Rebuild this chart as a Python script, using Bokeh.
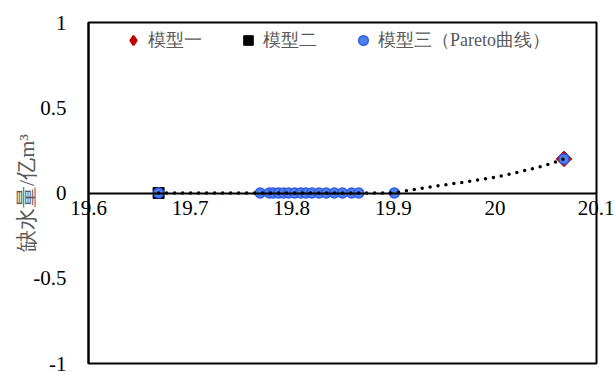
import math
from bokeh.plotting import figure
from bokeh.models import (Range1d, LinearAxis, FixedTicker, NumeralTickFormatter,
                          Legend, LegendItem)
from bokeh.embed import file_html
from bokeh.resources import INLINE

# Model results: water shortage (100 million m^3) against objective value
model1_x = [20.068]
model1_y = [0.2]
model2_x = [19.669]
model2_y = [0.0]

# Pareto solutions (model 3)
pareto_x = [19.669, 19.769, 19.778, 19.782, 19.787, 19.792, 19.797, 19.803, 19.809,
            19.814, 19.820, 19.827, 19.834, 19.842, 19.850, 19.859, 19.866,
            19.901, 20.068]
pareto_y = [0.0] * 18 + [0.2]

# Pareto curve trace
curve_x = [19.669, 19.769, 19.778, 19.782, 19.787, 19.792, 19.797, 19.803, 19.809,
           19.814, 19.820, 19.827, 19.834, 19.842, 19.850, 19.859, 19.866,
           19.901, 19.920, 19.940, 19.960, 19.980, 20.000, 20.020, 20.040, 20.055, 20.068]
curve_y = [0.0] * 18 + [0.020, 0.039, 0.056, 0.073, 0.092, 0.118, 0.147, 0.172, 0.2]

x_ticks = [19.6, 19.7, 19.8, 19.9, 20.0, 20.1]
y_ticks = [-1, -0.5, 0, 0.5, 1]

SERIF = "Liberation Serif"
W, H = 614, 372
# plot box inside the canvas (pixels): left, right, top, bottom
BOX_L, BOX_R, BOX_T, BOX_B = 88, 596, 22, 363

# The frame fills the whole canvas so that tick texts may run past the box;
# the ranges are widened so the box spans x_ticks / y_ticks extremes.
x0, x1 = x_ticks[0], x_ticks[-1]
y0, y1 = y_ticks[0], y_ticks[-1]
xs = (x1 - x0) / (BOX_R - BOX_L)
ys = (y1 - y0) / (BOX_B - BOX_T)
x_range = Range1d(x0 - BOX_L * xs, x1 + (W - BOX_R) * xs)
y_range = Range1d(y0 - (H - BOX_B) * ys, y1 + BOX_T * ys)

p = figure(width=W, height=H, output_backend="svg", toolbar_location=None,
           x_range=x_range, y_range=y_range,
           x_axis_type=None, y_axis_type=None,
           min_border=0)
p.background_fill_color = "white"
p.border_fill_color = "white"
p.outline_line_color = None
p.xgrid.visible = False
p.ygrid.visible = False

# plot box
p.quad(left=x0, right=x1, bottom=y0, top=y1, fill_color=None,
       line_color="black", line_width=2)

# y axis on the box's left edge
yaxis = LinearAxis(ticker=FixedTicker(ticks=y_ticks),
                   formatter=NumeralTickFormatter(format="0.[0]"),
                   axis_label="缺水量/亿m³", fixed_location=x0, bounds=(y0, y1))
yaxis.axis_line_color = "black"
yaxis.axis_line_width = 2
yaxis.major_tick_line_color = None
yaxis.minor_tick_line_color = None
yaxis.major_tick_out = 0
yaxis.major_tick_in = 0
yaxis.major_label_standoff = 22
yaxis.major_label_text_font = SERIF
yaxis.major_label_text_font_size = "21px"
yaxis.major_label_text_color = "black"
yaxis.axis_label_text_font = SERIF
yaxis.axis_label_text_font_size = "22px"
yaxis.axis_label_text_font_style = "normal"
yaxis.axis_label_text_color = "#595959"
yaxis.axis_label_standoff = -9
p.add_layout(yaxis, "left")

# x axis crossing at y = 0
xaxis = LinearAxis(ticker=FixedTicker(ticks=x_ticks),
                   formatter=NumeralTickFormatter(format="0.[0]"),
                   fixed_location=0, bounds=(x0, x1))
xaxis.axis_line_color = "black"
xaxis.axis_line_width = 2
xaxis.major_tick_line_color = None
xaxis.minor_tick_line_color = None
xaxis.major_tick_out = 0
xaxis.major_tick_in = 0
xaxis.major_label_standoff = 8
xaxis.major_label_text_font = SERIF
xaxis.major_label_text_font_size = "21px"
xaxis.major_label_text_color = "black"
p.add_layout(xaxis, "below")

r2 = p.scatter(model2_x, model2_y, marker="square", size=11,
               fill_color="black", line_color="black")
# diamond glyph used for the legend entry, covered by the rotated square below
r1_key = p.scatter(model1_x, model1_y, marker="diamond", size=8,
                   fill_color="#C00000", line_color="#C00000", line_width=2)
p.scatter(model1_x, model1_y, marker="square", size=11, angle=math.pi / 4,
          fill_color="#C00000", line_color="#C00000")
r3 = p.scatter(pareto_x, pareto_y, marker="circle", size=10,
               fill_color="#4F7FE8", line_color="#2E5BE6", line_width=1.5)
p.line(curve_x, curve_y, line_color="black", line_width=3.5,
       line_dash="0 8", line_cap="round")

legend = Legend(items=[LegendItem(label="模型一", renderers=[r1_key]),
                       LegendItem(label="模型二", renderers=[r2]),
                       LegendItem(label="模型三（Pareto曲线）", renderers=[r3])],
                orientation="horizontal", location=(121, 320))
legend.background_fill_alpha = 0
legend.border_line_color = None
legend.padding = 0
legend.margin = 0
legend.spacing = 34
legend.label_standoff = 3
legend.glyph_width = 24
legend.glyph_height = 24
legend.label_height = 24
legend.label_text_font = SERIF
legend.label_text_font_size = "18px"
legend.label_text_color = "#595959"
p.add_layout(legend, "center")

open("out.html", "w").write(file_html(p, INLINE))
